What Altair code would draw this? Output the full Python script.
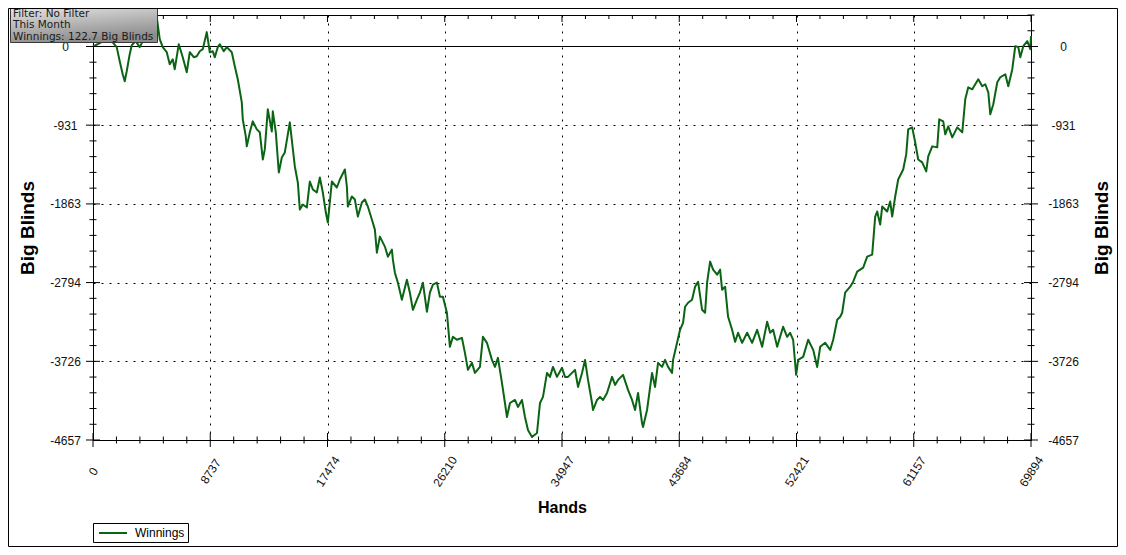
import altair as alt
import pandas as pd

# ---------------- data ----------------
# cumulative winnings (big blinds) against hands played
hands_1 = [0, 500, 947, 1394, 1767, 1991, 2214, 2364, 2513, 2736, 2885, 3184, 3482, 3855, 4228, 4526, 4749]
bb_1 = [0, 39, 87, 63, -8, -174, -328, -412, -293, -91, 15, 63, -8, 110, 205, 264, 347]

hands_2 = [4973, 5197, 5495, 5719, 5942, 6092, 6390, 6688, 6986, 7210,
           7508, 7732, 7956, 8179, 8477, 8701, 8925, 9074, 9298, 9447,
           9745, 9969, 10341, 10565, 10789, 11087, 11161, 11385, 11460, 11684]
bb_2 = [87, -8, -68, -210, -151, -269, 27, -127, -305, -68,
        -127, -115, -56, -32, 170, -68, -56, -127, -8, 27,
        -56, -8, -68, -234, -388, -661, -862, -1064, -1182, -1016]

hands_3 = [11907, 12205, 12429, 12653, 12802, 13026, 13324, 13398, 13622, 13846,
           14069, 14293, 14666, 15039, 15262, 15412, 15635, 15933, 16157, 16381,
           16679, 16903, 17126, 17350, 17499, 17797, 18170, 18394, 18767, 18916]
bb_3 = [-886, -981, -1016, -1337, -1218, -744, -1005, -767, -1016, -1491,
        -1313, -1254, -898, -1420, -1609, -1930, -1870, -1906, -1598, -1692,
        -1728, -1550, -1728, -1965, -2084, -1598, -1669, -1574, -1455, -1657]

hands_4 = [18990, 19289, 19512, 19736, 20034, 20258, 20482, 20780, 21004, 21153,
           21376, 21749, 21973, 22271, 22346, 22495, 22718, 23017, 23389, 23613,
           23837, 24135, 24359, 24582, 24881, 25104, 25328, 25626, 25850, 26074]
bb_4 = [-1894, -1775, -1811, -2013, -1847, -1811, -1894, -2048, -2167, -2440,
        -2250, -2368, -2487, -2404, -2523, -2677, -2795, -2997, -2760, -2914,
        -3116, -2997, -2914, -2795, -3139, -2914, -2819, -2795, -2961, -2961]

hands_5 = [26372, 26595, 26819, 27117, 27490, 27714, 27938, 28236, 28460, 28832,
           29056, 29354, 29727, 29951, 30175, 30473, 30696, 30846, 31070, 31442,
           31666, 31964, 32188, 32412, 32710, 33083, 33307, 33530, 33829, 34052]
bb_5 = [-3151, -3554, -3436, -3471, -3448, -3626, -3827, -3744, -3863, -3792,
        -3436, -3507, -3709, -3792, -3685, -3981, -4219, -4385, -4219, -4183,
        -4266, -4183, -4385, -4539, -4622, -4574, -4219, -4147, -3863, -3910]

hands_6 = [34276, 34574, 34947, 35171, 35395, 35693, 35917, 36141, 36439, 36663,
           36886, 37185, 37260, 37558, 37781, 38005, 38303, 38676, 38900, 39124,
           39495, 39867, 40166, 40390, 40613, 40911, 40986, 41284, 41657, 41880]
bb_6 = [-3792, -3910, -3803, -3910, -3910, -3863, -3827, -4029, -3863, -3709,
        -3946, -4219, -4302, -4183, -4147, -4183, -4100, -3910, -4005, -3946,
        -3886, -4064, -4183, -4302, -4100, -4456, -4503, -4302, -3863, -4029]

hands_7 = [42104, 42403, 42626, 42850, 43149, 43223, 43520, 43744, 43968, 44118,
           44341, 44639, 44863, 45087, 45385, 45609, 45759, 45983, 46206, 46505,
           46727, 46876, 47100, 47323, 47622, 47845, 48069, 48368, 48741, 49113]
bb_7 = [-3744, -3792, -3709, -3792, -3863, -3709, -3507, -3353, -3270, -3080,
        -3033, -2997, -2843, -2784, -3116, -3151, -2795, -2546, -2641, -2700,
        -2641, -2878, -2843, -3199, -3353, -3495, -3388, -3507, -3388, -3507]

hands_8 = [49486, 49860, 50233, 50457, 50681, 50979, 51200, 51425, 51723, 51946,
           52170, 52394, 52543, 52916, 53290, 53663, 53962, 54185, 54558, 54931,
           55155, 55454, 55677, 55823, 56047, 56420, 56644, 56942, 57389, 57687]
bb_8 = [-3353, -3554, -3258, -3388, -3353, -3554, -3436, -3317, -3436, -3388,
        -3471, -3886, -3709, -3673, -3471, -3590, -3792, -3554, -3507, -3590,
        -3471, -3234, -3199, -3151, -2914, -2843, -2784, -2665, -2618, -2487]

hands_9 = [58060, 58284, 58433, 58656, 58806, 59178, 59402, 59551, 59775, 59998,
           60371, 60595, 60744, 61042, 61266, 61490, 61788, 62086, 62236, 62534,
           62907, 63056, 63355, 63504, 63728, 64026, 64399, 64772, 64995, 65219]
bb_9 = [-2463, -2013, -1953, -2108, -1894, -1953, -1835, -2013, -1775, -1574,
        -1455, -1277, -981, -957, -1135, -1337, -1372, -1479, -1301, -1182,
        -1194, -862, -887, -1040, -945, -1076, -957, -1016, -625, -483]

hands_10 = [65518, 65741, 65965, 66263, 66487, 66711, 66860, 67084, 67382, 67605,
            67979, 68201, 68500, 68723, 68947, 69096, 69320, 69618, 69842, 69894]
bb_10 = [-507, -447, -388, -471, -447, -542, -803, -684, -423, -364,
         -329, -471, -269, 4, -8, -127, 4, 63, -32, 122.7]

# axis ticks / labels
x_ticks = [0, 8737, 17474, 26210, 34947, 43684, 52421, 61157, 69894]
y_ticks = [0, -931, -1863, -2794, -3726, -4657]
y_top = 372.6

series_name = "Winnings"
info_lines = ["Filter: No Filter", "This Month", "Winnings: 122.7 Big Blinds"]

# ---------------- build tables ----------------
hands = hands_1 + hands_2 + hands_3 + hands_4 + hands_5 + hands_6 + hands_7 + hands_8 + hands_9 + hands_10
bb = bb_1 + bb_2 + bb_3 + bb_4 + bb_5 + bb_6 + bb_7 + bb_8 + bb_9 + bb_10
line_df = pd.DataFrame({"hands": hands, "bb": bb, "series": series_name})

x_minor = [a + k * (b - a) / 5 for a, b in zip(x_ticks[:-1], x_ticks[1:]) for k in range(1, 5)]
y_asc = sorted(y_ticks)
y_minor = [a + k * (b - a) / 5 for a, b in zip(y_asc[:-1], y_asc[1:]) for k in range(1, 5)]
y_step = (y_asc[-1] - y_asc[-2]) / 5
y_minor += [y_step, 2 * y_step]

xmaj_df = pd.DataFrame({"v": x_ticks})
xmin_df = pd.DataFrame({"v": x_minor})
ymaj_df = pd.DataFrame({"v": y_ticks})
ymin_df = pd.DataFrame({"v": y_minor})
zero_df = pd.DataFrame({"v": [0]})
one_df = pd.DataFrame({"t": ["\n".join(info_lines)]})

# ---------------- styling ----------------
W, H = 938, 425
F = "Liberation Sans"
GREEN = "#0b6414"
DASH = [2, 6]

xs = alt.Scale(domain=[0, x_ticks[-1]], nice=False, zero=False)
ys = alt.Scale(domain=[y_ticks[-1], y_top], nice=False, zero=False)

common_lbl = dict(labelFont=F, labelFontSize=12, labelColor="#111111", labelFlush=False,
                  labelOverlap=False, labelExpr="toString(datum.value)",
                  ticks=False, tickSize=0, domain=True, domainColor="black", domainWidth=1)

bottom_axis = alt.Axis(orient="bottom", values=x_ticks, labelAngle=303, labelAlign="center",
                       labelBaseline="middle", labelPadding=31,
                       grid=True, gridColor="black", gridDash=DASH, gridWidth=1, gridOpacity=1,
                       title="Hands", titleFont=F, titleFontSize=16, titleFontWeight="bold",
                       titleColor="black", titleX=W / 2, titleY=72, titleAlign="center",
                       titleBaseline="alphabetic", **common_lbl)
left_axis = alt.Axis(orient="left", values=y_ticks, labelAlign="center", labelBaseline="middle",
                     labelPadding=28,
                     grid=True, gridColor="black", gridDash=DASH, gridWidth=1, gridOpacity=1,
                     title="Big Blinds", titleFont=F, titleFontSize=19, titleFontWeight="bold",
                     titleColor="black", titleAngle=270, titleX=-60, titleY=H / 2,
                     titleAlign="center", titleBaseline="alphabetic", **common_lbl)
right_axis = alt.Axis(orient="right", values=y_ticks, labelAlign="center", labelBaseline="middle",
                      labelPadding=32, grid=False,
                      title="Big Blinds", titleFont=F, titleFontSize=19, titleFontWeight="bold",
                      titleColor="black", titleAngle=270, titleX=76, titleY=H / 2,
                      titleAlign="center", titleBaseline="alphabetic", **common_lbl)
top_axis = alt.Axis(orient="top", values=x_ticks, labels=False, ticks=False, tickSize=0,
                    grid=False, domain=True, domainColor="black", domainWidth=1, title=None)

# legend: a 28px stroke sample drawn from a custom path (12px symbol slot)
legend = alt.Legend(orient="none", legendX=0, legendY=508, title=None, direction="vertical",
                    strokeColor="black", fillColor="white", padding=3, cornerRadius=0,
                    symbolType="M-0.667,0H4", symbolSize=144, symbolStrokeWidth=2,
                    symbolFillColor="transparent",
                    labelFont=F, labelFontSize=12, labelColor="black", labelOffset=25,
                    labelBaseline="middle")

# ---------------- layers ----------------
zero_rule = alt.Chart(zero_df).mark_rule(color="black", strokeWidth=1).encode(
    y=alt.Y("v:Q", scale=ys, axis=None))

line = alt.Chart(line_df).mark_line(strokeWidth=2, strokeJoin="round").encode(
    x=alt.X("hands:Q", scale=xs, axis=bottom_axis),
    y=alt.Y("bb:Q", scale=ys, axis=left_axis),
    color=alt.Color("series:N", scale=alt.Scale(domain=[series_name], range=[GREEN]), legend=legend),
    order="hands:Q")

def vticks(df, y0, y1, axis=None):
    return alt.Chart(df).mark_rule(color="black", strokeWidth=1).encode(
        x=alt.X("v:Q", scale=xs, axis=axis), y=alt.value(y0), y2=alt.value(y1))

def hticks(df, x0, x1, axis=None):
    return alt.Chart(df).mark_rule(color="black", strokeWidth=1).encode(
        y=alt.Y("v:Q", scale=ys, axis=axis), x=alt.value(x0), x2=alt.value(x1))

top_major = vticks(xmaj_df, 0, 7, top_axis)
top_minor = vticks(xmin_df, 0, 4)
bot_major = vticks(xmaj_df, H - 7, H + 7)
bot_minor = vticks(xmin_df, H - 3.5, H + 3.5)
left_major = hticks(ymaj_df, -7, 7)
left_minor = hticks(ymin_df, -3.5, 3.5)
right_major = hticks(ymaj_df, W - 7, W + 7, right_axis)
right_minor = hticks(ymin_df, W - 3.5, W + 3.5)

box_fill = alt.LinearGradient(
    gradient="linear", x1=0, y1=0, x2=0.35, y2=1,
    stops=[alt.GradientStop(color="#e2e2e2", offset=0),
           alt.GradientStop(color="#8c8c8c", offset=1)])
info_box = alt.Chart(one_df).mark_rect(fill=box_fill, stroke="#3a3a3a", strokeWidth=1).encode(
    x=alt.value(-82.5), x2=alt.value(64.5), y=alt.value(-6.5), y2=alt.value(27.5))
info_text = alt.Chart(one_df).mark_text(
    align="left", baseline="alphabetic", font="DejaVu Sans", fontSize=10.5,
    lineBreak="\n", lineHeight=11.8, color="#1a1a1a").encode(
    x=alt.value(-80), y=alt.value(1.5), text="t:N")

border = alt.Chart(one_df).mark_rect(fillOpacity=0, stroke="black", strokeWidth=1).encode(
    x=alt.value(-84.5), x2=alt.value(W + 86.5), y=alt.value(-6.5), y2=alt.value(H + 106.5))

chart = alt.layer(
    zero_rule, line, top_major, top_minor, bot_major, bot_minor,
    left_major, left_minor, right_major, right_minor, info_box, info_text, border
).resolve_axis(x="independent", y="independent").properties(
    width=W, height=H,
    autosize=alt.AutoSizeParams(type="none"),
    padding={"left": 85, "top": 7, "right": 87, "bottom": 107},
    background="white",
).configure_view(stroke=None)

chart.save("out.html", embed_options={"renderer": "svg", "actions": False})
